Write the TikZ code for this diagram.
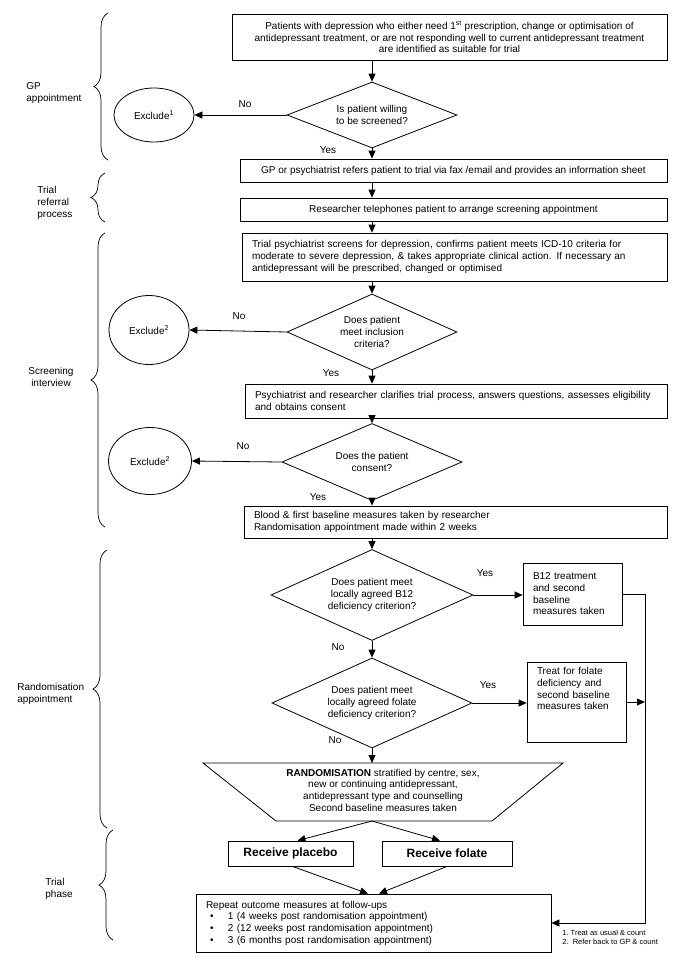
\documentclass[tikz,border=0pt]{standalone}
\usepackage{fontspec}
\setmainfont{Liberation Sans}
\usetikzlibrary{shapes.geometric,arrows.meta,decorations.pathreplacing}
\begin{document}
\begin{tikzpicture}[x=1pt,y=-1pt,
  line width=0.8pt,
  every node/.style={font=\fontsize{10}{11.7}\selectfont},
  box/.style={draw, inner sep=0pt, align=center},
  lbox/.style={draw, inner xsep=10pt, inner ysep=0pt, align=left},
  dia/.style={draw, diamond, inner sep=0pt, align=center, aspect=2.5},
  excl/.style={draw, ellipse, inner sep=0pt},
  arr/.style={-{Triangle[length=8pt,width=7pt]}},
  brc/.style={decorate, decoration={brace, amplitude=14pt}, line width=0.7pt},
  lab/.style={inner sep=0pt},
  side/.style={align=left, inner sep=0pt, anchor=west},
]
\useasboundingbox (0,0) rectangle (685,969);
\fill[white] (0,0) rectangle (685,969);

% boxes
\node[box, minimum width=435pt, minimum height=46pt] (b1) at (449.5,37)
 {Patients with depression who either need 1\textsuperscript{st} prescription, change or optimisation of\\
  antidepressant treatment, or are not responding well to current antidepressant treatment\\
  are identified as suitable for trial};
\node[dia, minimum width=170pt, minimum height=66pt] (d1) at (372,115) {Is patient willing\\to be screened?};
\node[excl, minimum width=80pt, minimum height=54pt] (ex1) at (154,115) {Exclude\textsuperscript{1}};
\node[box, minimum width=427pt, minimum height=23pt] (gp) at (453.5,170.5)
 {GP or psychiatrist refers patient to trial via fax /email and provides an information sheet};
\node[box, minimum width=427pt, minimum height=23pt] (rs) at (453.5,209.5)
 {Researcher telephones patient to arrange screening appointment};
\node[lbox, text width=405pt, minimum height=48pt] (sc) at (454.5,257)
 {Trial psychiatrist screens for depression, confirms patient meets ICD-10 criteria for\\
  moderate to severe depression, \& takes appropriate clinical action. If necessary an\\
  antidepressant will be prescribed, changed or optimised};
\node[dia, minimum width=170pt, minimum height=76pt] (d2) at (372,332) {Does patient\\meet inclusion\\criteria?};
\node[excl, minimum width=80pt, minimum height=69pt] (ex2a) at (149,330) {Exclude\textsuperscript{2}};
\node[lbox, text width=402pt, minimum height=34pt] (ps) at (456,401)
 {Psychiatrist and researcher clarifies trial process, answers questions, assesses eligibility\\
  and obtains consent};
\node[dia, minimum width=180pt, minimum height=77pt] (d3) at (372,462) {Does the patient\\consent?};
\node[excl, minimum width=83pt, minimum height=67pt] (ex2b) at (150,461) {Exclude\textsuperscript{2}};
\node[lbox, text width=403pt, minimum height=32pt] (bl) at (455.5,522)
 {Blood \& first baseline measures taken by researcher\\
  Randomisation appointment made within 2 weeks};
\node[dia, minimum width=202pt, minimum height=91pt] (d4) at (372,595)
 {Does patient meet\\locally agreed B12\\deficiency criterion?};
\node[lbox, text width=79pt, minimum height=62pt] (b12) at (572.5,594)
 {B12 treatment\\and second\\baseline\\measures taken};
\node[dia, minimum width=200pt, minimum height=90pt] (d5) at (372,703)
 {Does patient meet\\locally agreed folate\\deficiency criterion?};
\node[lbox, text width=79pt, minimum height=80pt, text depth=62pt] (fo) at (576.5,702)
 {Treat for folate\\deficiency and\\second baseline\\measures taken};

% randomisation trapezoid
\draw (203,763) -- (563,763) -- (492,821) -- (276,821) -- cycle;
\coordinate (rtop) at (372,763);
\coordinate (rbot) at (372,821);
\node[lab, align=center] (rand) at (383,790)
 {\textbf{RANDOMISATION} stratified by centre, sex,\\
  new or continuing antidepressant,\\
  antidepressant type and counselling\\
  Second baseline measures taken};

\node[box, minimum width=125pt, minimum height=25pt, font=\fontsize{12}{14}\selectfont\bfseries] (pl) at (290.5,853.5) {Receive placebo};
\node[box, minimum width=130pt, minimum height=25pt, font=\fontsize{12}{14}\selectfont\bfseries] (rf) at (447,853.5) {Receive folate};

\node[lbox, text width=335pt, minimum height=58pt] (fin) at (373.5,923)
 {Repeat outcome measures at follow-ups\\
  \hspace*{4pt}\makebox[18pt][l]{\textbullet}1 (4 weeks post randomisation appointment)\\
  \hspace*{4pt}\makebox[18pt][l]{\textbullet}2 (12 weeks post randomisation appointment)\\
  \hspace*{4pt}\makebox[18pt][l]{\textbullet}3 (6 months post randomisation appointment)};

\node[lab, align=left, anchor=north west, font=\fontsize{7.5}{9}\selectfont] (foot) at (562,930)
 {1.\ Treat as usual \& count\\2.\ \ Refer back to GP \& count};

% connectors
\coordinate (rl) at (645,0);
\draw[arr] (b1.south -| d1.north) -- (d1.north);
\draw[arr] (d1.west) -- (ex1.east);
\draw[arr] (d1.south) -- (gp.north -| d1.south);
\draw[arr] (gp.south -| d1.south) -- (rs.north -| d1.south);
\draw[arr] (rs.south -| d1.south) -- (sc.north -| d1.south);
\draw[arr] (sc.south -| d2.north) -- (d2.north);
\draw[arr] (d2.west) -- (ex2a.east);
\draw[arr] (d2.south) -- (ps.north -| d2.south);
\draw[arr] (ps.south -| d3.north) -- (d3.north);
\draw[arr] (d3.west) -- (ex2b.east);
\draw[arr] (d3.south) -- (bl.north -| d3.south);
\draw[arr] (bl.south -| d4.north) -- (d4.north);
\draw[arr] (d4.east) -- (b12.west |- d4.east);
\draw[arr] (d4.south) -- (d5.north);
\draw[arr] (d5.east) -- (fo.west |- d5.east);
\draw[arr] (d5.south) -- (rtop);
\draw[arr] (rbot) -- ([xshift=7pt]pl.north);
\draw[arr] (rbot) -- ([xshift=-7pt]rf.north);
\draw[arr] ([xshift=2pt]pl.south) -- ([xshift=-5.5pt]fin.north);
\draw[arr] (rf.south) -- ([xshift=5.5pt]fin.north);
\draw[arr] (b12.east) -- (b12.east -| rl) -- (rl |- fin.east) -- (fin.east);
\draw[arr] (fo.east) -- (fo.east -| rl);

% yes / no labels
\node[lab] (no1) at (245,104) {No};
\node[lab] (yes1) at (328,150) {Yes};
\node[lab] (no2) at (239,316) {No};
\node[lab] (yes2) at (331,373) {Yes};
\node[lab] (no3) at (243,446) {No};
\node[lab] (yes3) at (318,497) {Yes};
\node[lab] (yes4) at (485,573) {Yes};
\node[lab] (no4) at (338,647) {No};
\node[lab] (yes5) at (488,685) {Yes};
\node[lab] (no5) at (335,740) {No};

% braces and phase labels
\draw[brc] (108,160) -- (108,13);
\draw[brc] (105,222) -- (105,173);
\draw[brc] (105,527) -- (105,233);
\draw[brc] (107,828) -- (107,550);
\draw[brc] (113,940) -- (113,830);
\node[side] (lgp) at (26,93) {GP\\appointment};
\node[side] (lref) at (37,203) {Trial\\referral\\process};
\node[lab, align=center] (lscr) at (51,377) {Screening\\interview};
\node[side] (lran) at (17,694) {Randomisation\\appointment};
\node[side] (ltri) at (45,889) {Trial\\phase};
\end{tikzpicture}
\end{document}
